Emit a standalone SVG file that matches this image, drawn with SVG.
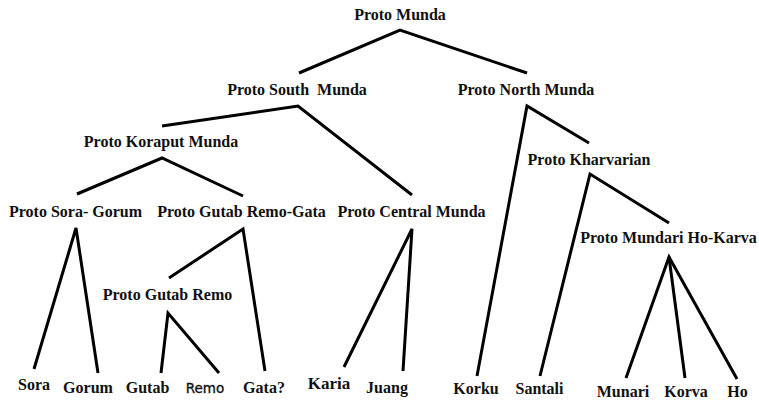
<svg xmlns="http://www.w3.org/2000/svg" width="759" height="402" viewBox="0 0 759 402">
<style>
.n{font-family:"Liberation Serif","Times New Roman",serif;font-weight:bold;font-size:16px;fill:#111;text-anchor:middle}
.s{font-family:"DejaVu Sans",Verdana,sans-serif;font-size:13.5px;fill:#111;stroke:#111;stroke-width:0.35;text-anchor:middle}
.e{fill:none;stroke:#000;stroke-width:3;stroke-linejoin:miter;stroke-linecap:butt}
</style>
<rect width="759" height="402" fill="#fff"/>
<g id="connectors">
<polyline class="e" points="299,73 400,30 527,73"/>
<polyline class="e" points="162,126 298,106 412,195"/>
<polyline class="e" points="477,376 527,106 589,143"/>
<polyline class="e" points="77,194 162,158 243,196"/>
<polyline class="e" points="540,376 590,174 669,223"/>
<polyline class="e" points="34,369 76,228 98,373"/>
<polyline class="e" points="169,278 243,229 265,371"/>
<polyline class="e" points="161,373 168,313 219,373"/>
<polyline class="e" points="344,367 412,229 403,371"/>
<polyline class="e" points="626,378 669,257 737,379"/>
<line class="e" x1="669" y1="257" x2="685" y2="378"/>
</g>
<g id="proto-munda"><text class="n" x="400" y="20">Proto Munda</text></g>
<g id="proto-south-munda"><text class="n" x="297" y="95" xml:space="preserve">Proto South  Munda</text></g>
<g id="proto-north-munda"><text class="n" x="526" y="95">Proto North Munda</text></g>
<g id="proto-koraput-munda"><text class="n" x="161" y="147">Proto Koraput Munda</text></g>
<g id="proto-kharvarian"><text class="n" x="589" y="165">Proto Kharvarian</text></g>
<g id="proto-sora-gorum"><text class="n" x="75.5" y="217">Proto Sora- Gorum</text></g>
<g id="proto-gutab-remo-gata"><text class="n" x="241.5" y="217">Proto Gutab Remo-Gata</text></g>
<g id="proto-central-munda"><text class="n" x="411.5" y="217">Proto Central Munda</text></g>
<g id="proto-mundari-ho-karva"><text class="n" x="668.5" y="243">Proto Mundari Ho-Karva</text></g>
<g id="proto-gutab-remo"><text class="n" x="167.5" y="300">Proto Gutab Remo</text></g>
<g id="sora"><text class="n" x="34" y="390">Sora</text></g>
<g id="gorum"><text class="n" x="88" y="393">Gorum</text></g>
<g id="gutab"><text class="n" x="147.5" y="393">Gutab</text></g>
<g id="remo"><text class="s" x="205" y="393">Remo</text></g>
<g id="gata"><text class="n" x="264" y="393">Gata?</text></g>
<g id="karia"><text class="n" x="329" y="389" style="font-size:17px">Karia</text></g>
<g id="juang"><text class="n" x="387" y="393">Juang</text></g>
<g id="korku"><text class="n" x="476" y="394">Korku</text></g>
<g id="santali"><text class="n" x="539.5" y="394">Santali</text></g>
<g id="munari"><text class="n" x="623" y="397">Munari</text></g>
<g id="korva"><text class="n" x="686" y="397">Korva</text></g>
<g id="ho"><text class="n" x="737.5" y="397">Ho</text></g>
</svg>
